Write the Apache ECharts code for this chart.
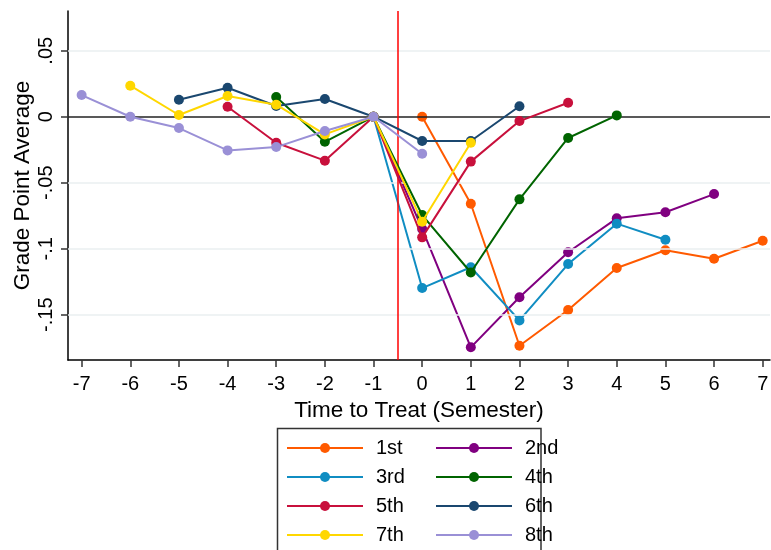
<!DOCTYPE html>
<html>
<head>
<meta charset="utf-8">
<script src="https://cdn.jsdelivr.net/npm/echarts@6/dist/echarts.min.js"></script>
<style>
html,body{margin:0;padding:0;background:#fff;}
#chart{width:771px;height:550px;}
</style>
</head>
<body>
<div id="chart"></div>
<script>
// ---- data ----
var seriesNames = ['1st','2nd','3rd','4th','5th','6th','7th','8th'];
var seriesColors = ['#ff5a00','#800080','#108dc2','#006400','#c8103c','#1a476f','#ffd700','#9a90d6'];
var x1st = [0,1,2,3,4,5,6,7];
var y1st = [0,-0.0659,-0.1735,-0.1464,-0.1146,-0.1012,-0.1076,-0.094];
var x2nd = [-1,0,1,2,3,4,5,6];
var y2nd = [0,-0.085,-0.1747,-0.1368,-0.1027,-0.077,-0.0724,-0.0586];
var x3rd = [-1,0,1,2,3,4,5];
var y3rd = [0,-0.1298,-0.114,-0.1543,-0.1116,-0.081,-0.0932];
var x4th = [-3,-2,-1,0,1,2,3,4];
var y4th = [0.0149,-0.019,0,-0.0745,-0.118,-0.0626,-0.0161,0.001];
var x5th = [-4,-3,-2,-1,0,1,2,3];
var y5th = [0.0076,-0.0197,-0.0333,0,-0.0914,-0.034,-0.0033,0.0106];
var x6th = [-5,-4,-3,-2,-1,0,1,2];
var y6th = [0.0129,0.022,0.0081,0.0134,0,-0.0184,-0.0184,0.0079];
var x7th = [-6,-5,-4,-3,-2,-1,0,1];
var y7th = [0.0235,0.0013,0.0157,0.0091,-0.0134,0,-0.0795,-0.0197];
var x8th = [-7,-6,-5,-4,-3,-2,-1,0];
var y8th = [0.0164,0,-0.0086,-0.0255,-0.023,-0.0108,0,-0.028];
var xTicks = [-7,-6,-5,-4,-3,-2,-1,0,1,2,3,4,5,6,7];
var yTicks = [-0.15,-0.1,-0.05,0,0.05];
var yGrid = [-0.15,-0.1,-0.05,0.05];
var treatLine = -0.5;
var xTitle = 'Time to Treat (Semester)';
var yTitle = 'Grade Point Average';

var xs = [x1st,x2nd,x3rd,x4th,x5th,x6th,x7th,x8th];
var ys = [y1st,y2nd,y3rd,y4th,y5th,y6th,y7th,y8th];

function zip(a,b){ return a.map(function(v,i){ return [v,b[i]]; }); }

var FONT = '"Liberation Sans", Arial, sans-serif';

var series = [];
// grid lines + zero line (underneath)
series.push({
  type:'line', data:[], silent:true, z:1,
  markLine:{
    silent:true, symbol:'none', animation:false,
    label:{show:false},
    data: yGrid.map(function(v){ return {yAxis:v, lineStyle:{color:'#eaeff1', width:1.5, type:'solid'}}; })
      .concat([{yAxis:0, lineStyle:{color:'#222', width:1.5, type:'solid'}}])
  }
});
seriesNames.forEach(function(n,i){
  series.push({
    name:n, type:'line', data:zip(xs[i],ys[i]),
    symbol:'circle', symbolSize:10, showSymbol:true,
    lineStyle:{width:2, color:seriesColors[i]},
    itemStyle:{color:seriesColors[i]},
    z:2+i, animation:false
  });
});
series.push({
  type:'line', data:[], silent:true, z:20,
  markLine:{
    silent:true, symbol:'none', animation:false, label:{show:false},
    data:[{xAxis:treatLine, lineStyle:{color:'#ff0000', width:1.5, type:'solid'}}]
  }
});

var legendCommon = {
  orient:'vertical', padding:0, itemGap:9, itemWidth:76, itemHeight:12.5,
  textStyle:{fontFamily:FONT, fontSize:20, color:'#000', padding:[0,0,0,8]},
  selectedMode:false
};

var option = {
  animation:false,
  backgroundColor:'#fff',
  grid:{left:68, top:11, right:1, bottom:190, containLabel:false, outerBoundsMode:'none'},
  xAxis:{
    type:'value', min:-7.28, max:7.15,
    axisLine:{show:true, onZero:false, lineStyle:{color:'#000', width:1.5}},
    axisTick:{show:true, length:7, customValues:xTicks, lineStyle:{color:'#333', width:1.5}},
    axisLabel:{customValues:xTicks, fontFamily:FONT, fontSize:20, color:'#000', margin:14},
    splitLine:{show:false},
    name:xTitle, nameLocation:'middle', nameGap:27,
    nameTextStyle:{fontFamily:FONT, fontSize:22.5, color:'#000'}
  },
  yAxis:{
    type:'value', min:-0.1843, max:0.0801,
    axisLine:{show:true, onZero:false, lineStyle:{color:'#000', width:1.5}},
    axisTick:{show:true, length:7, customValues:yTicks, lineStyle:{color:'#333', width:1.5}},
    axisLabel:{customValues:yTicks, rotate:90, fontFamily:FONT, fontSize:20, color:'#000', margin:12,
      formatter:function(v){ if (Math.abs(v) < 1e-12) return '0'; return String(+v.toFixed(4)).replace('0.', '.'); }},
    splitLine:{show:false},
    name:yTitle, nameLocation:'middle', nameGap:34, nameRotate:90, nameMoveOverlap:false,
    nameTextStyle:{fontFamily:FONT, fontSize:22.5, color:'#000'}
  },
  legend:[
    Object.assign({left:286, top:438, data:['1st','3rd','5th','7th']}, legendCommon),
    Object.assign({left:435, top:438, data:['2nd','4th','6th','8th']}, legendCommon)
  ],
  graphic:[{
    type:'rect', shape:{x:277.5, y:428.5, width:263.5, height:125},
    style:{fill:'none', stroke:'#333', lineWidth:1.5}, z:0, silent:true
  }],
  series:series
};

var chart = echarts.init(document.getElementById('chart'), null, {renderer:'canvas'});
chart.setOption(option);
</script>
</body>
</html>
